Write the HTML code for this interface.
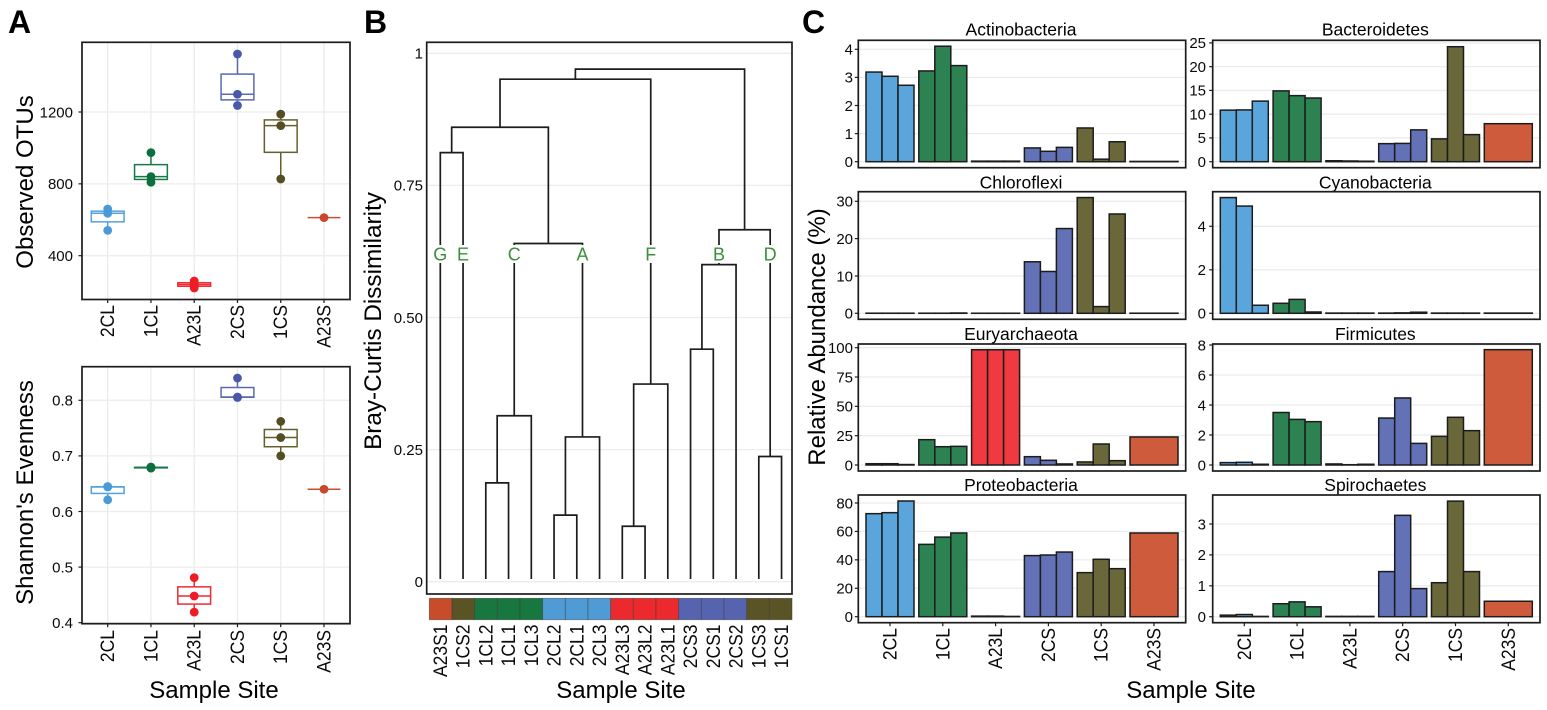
<!DOCTYPE html>
<html lang="en">
<head>
<meta charset="utf-8">
<title>Microbial community figure</title>
<style>
html,body{margin:0;padding:0;background:#fff;}
svg{display:block;font-family:"Liberation Sans",Arial,sans-serif;}
</style>
</head>
<body>
<svg id="figure" xmlns="http://www.w3.org/2000/svg" width="1547" height="710" viewBox="0 0 1547 710">
  <text x="8" y="33" font-size="32" font-weight="bold" fill="#000">A</text>
  <text x="364" y="33" font-size="32" font-weight="bold" fill="#000">B</text>
  <text x="802" y="33" font-size="32" font-weight="bold" fill="#000">C</text>
  <text transform="translate(33 182) rotate(-90)" text-anchor="middle" font-size="24" fill="#000">Observed OTUs</text>
  <text transform="translate(33 492.5) rotate(-90)" text-anchor="middle" font-size="24" fill="#000">Shannon's Evenness</text>
  <text x="214" y="698" text-anchor="middle" font-size="24" fill="#000">Sample Site</text>
  <text transform="translate(381 321) rotate(-90)" text-anchor="middle" font-size="24.3" fill="#000">Bray-Curtis Dissimilarity</text>
  <text x="621" y="698" text-anchor="middle" font-size="24" fill="#000">Sample Site</text>
  <text transform="translate(825 337) rotate(-90)" text-anchor="middle" font-size="24" fill="#000">Relative Abundance (%)</text>
  <text x="1191" y="698" text-anchor="middle" font-size="24" fill="#000">Sample Site</text>
  <g id="panel-a"></g>
  <g id="panel-b"></g>
  <g id="panel-c"></g>
</svg>
<script>
/* ---------- shared data ---------- */
const sites = ['2CL','1CL','A23L','2CS','1CS','A23S'];
const replicatesPerSite = [3,3,3,3,3,1];

/* Panel A */
const otusTicks = [400,800,1200];
const otus2CL = [541,636,660];
const otus1CL = [809,840,974];
const otusA23L = [220,240,259];
const otus2CS = [1236,1299,1523];
const otus1CS = [827,1124,1188];
const otusA23S = [612];
const evennessTicks = [0.4,0.5,0.6,0.7,0.8];
const evenness2CL = [0.621,0.644,0.645];
const evenness1CL = [0.678,0.679,0.680];
const evennessA23L = [0.419,0.448,0.481];
const evenness2CS = [0.805,0.806,0.840];
const evenness1CS = [0.700,0.733,0.762];
const evennessA23S = [0.640];

/* Panel B */
const dendroTicks = [0,0.25,0.5,0.75,1];
const dendroTickLabels = ['0','0.25','0.50','0.75','1'];
const leafNames = ['A23S1','1CS2','1CL2','1CL1','1CL3','2CL2','2CL1','2CL3','A23L3','A23L2','A23L1','2CS3','2CS1','2CS2','1CS3','1CS1'];
const leafHeight = 0.005;
const mergeLeft  = [2,16,5,18,8,20,11,22,14,23,17,0,27,28,29];
const mergeRight = [3,4,6,7,9,10,12,13,15,24,19,1,26,21,25];
const mergeHeight = [0.187,0.314,0.126,0.274,0.105,0.374,0.44,0.60,0.237,0.666,0.64,0.812,0.86,0.951,0.97];
const clusterLetters = ['G','E','C','A','F','B','D'];
const clusterNodes = [0,1,17,19,21,23,24];

/* Panel C */
const phyla = ['Actinobacteria','Bacteroidetes','Chloroflexi','Cyanobacteria','Euryarchaeota','Firmicutes','Proteobacteria','Spirochaetes'];
const actinobacteria = [3.19,3.04,2.72, 3.23,4.11,3.42, 0.02,0.02,0.02, 0.49,0.37,0.51, 1.2,0.09,0.71, 0.01];
const bacteroidetes = [10.85,10.9,12.75, 14.9,13.9,13.4, 0.2,0.15,0.1, 3.8,3.85,6.7, 4.8,24.2,5.7, 8.0];
const chloroflexi = [0.03,0.03,0.03, 0.03,0.03,0.08, 0.02,0.02,0.02, 13.8,11.2,22.7, 31,1.8,26.6, 0.03];
const cyanobacteria = [5.32,4.93,0.37, 0.46,0.64,0.06, 0.01,0.01,0.01, 0.01,0.02,0.05, 0.01,0.01,0.01, 0.01];
const euryarchaeota = [1.1,1.1,0.4, 21.6,15.6,15.9, 98.3,98.3,98.3, 7.1,4,0.9, 2.6,17.9,3.7, 23.9];
const firmicutes = [0.16,0.18,0.05, 3.5,3.04,2.89, 0.07,0.02,0.05, 3.13,4.47,1.44, 1.91,3.18,2.29, 7.69];
const proteobacteria = [72.5,73.2,81.4, 50.9,56,58.9, 0.4,0.4,0.2, 43,43.4,45.5, 31,40.4,33.8, 58.9];
const spirochaetes = [0.05,0.07,0.01, 0.42,0.48,0.32, 0.01,0.01,0.01, 1.46,3.28,0.91, 1.1,3.74,1.46, 0.5];
const actinobacteriaTicks = [0,1,2,3,4];
const bacteroidetesTicks = [0,5,10,15,20,25];
const chloroflexiTicks = [0,10,20,30];
const cyanobacteriaTicks = [0,2,4];
const euryarchaeotaTicks = [0,25,50,75,100];
const firmicutesTicks = [0,2,4,6,8];
const proteobacteriaTicks = [0,20,40,60,80];
const spirochaetesTicks = [0,1,2,3];

/* ---------- styling ---------- */
const pointColors = {'2CL':'#4a9ad8','1CL':'#0e6f3e','A23L':'#ee1c25','2CS':'#4a59a7','1CS':'#544e22','A23S':'#c9472a'};
const boxColors = {'2CL':'#55a2dd','1CL':'#18784a','A23L':'#ef2a32','2CS':'#5a68b5','1CS':'#63602f','A23S':'#cb4f2e'};
const barColors = {'2CL':'#5aa5dc','1CL':'#2c8251','A23L':'#ee3a40','2CS':'#6371b7','1CS':'#6a683a','A23S':'#ce5b3b'};
const stripColors = {'2CL':'#4f9bd6','1CL':'#17773f','A23L':'#ec2a2e','2CS':'#5664b0','1CS':'#5a5326','A23S':'#c94c2a'};
const GRID = '#ececec';
const INK = '#1c1c1c';
const TICKTEXT = '#0a0a0a';

/* ---------- helpers ---------- */
const NS = 'http://www.w3.org/2000/svg';
function mk(tag, attrs, parent){
  const el = document.createElementNS(NS, tag);
  for (const k in attrs) el.setAttribute(k, attrs[k]);
  parent.appendChild(el);
  return el;
}
function linearScale(v0, p0, v1, p1){
  return v => p0 + (v - v0) * (p1 - p0) / (v1 - v0);
}
function drawLine(parent, x1, y1, x2, y2, stroke, w, name){
  const el = mk('line', {x1, y1, x2, y2, stroke, 'stroke-width': w}, parent);
  
  
  return el;
}
function drawText(parent, x, y, str, size, anchor, name, fill){
  const el = mk('text', {x, y, 'font-size': size, 'text-anchor': anchor, fill: fill || TICKTEXT}, parent);
  el.textContent = str;
  
  
  return el;
}
function drawVerticalLabel(parent, x, yEnd, str, size, name){
  const el = mk('text', {'font-size': size, 'text-anchor': 'end', fill: TICKTEXT,
    transform: 'translate(' + x + ' ' + yEnd + ') rotate(-90) scale(1 1.12)'}, parent);
  el.textContent = str;
  
  
  return el;
}
function drawFrame(parent, r, name){
  const el = mk('rect', {x: r.x, y: r.y, width: r.w, height: r.h, fill: 'none', stroke: INK, 'stroke-width': 1.7}, parent);
  
  
  return el;
}
function quantile(sorted, q){
  const pos = (sorted.length - 1) * q;
  const lo = Math.floor(pos), hi = Math.ceil(pos);
  return sorted[lo] + (sorted[hi] - sorted[lo]) * (pos - lo);
}

/* ---------- panel A ---------- */
function drawBoxPanel(prefix, r, series, ticks, tickFmt, yScale, labelEnd){
  const root = document.getElementById('panel-a');
  const xScale = i => 107.7 + 43.26 * i;
  ticks.forEach(t => {
    const y = yScale(t);
    drawLine(root, r.x, y, r.x + r.w, y, GRID, 1.3, prefix + '-gridline-y');
    drawLine(root, r.x - 3.5, y, r.x, y, INK, 1.2, prefix + '-y-tick');
    drawText(root, 73, y + 5.3, tickFmt(t), 15, 'end', prefix + '-y-tick-label');
  });
  sites.forEach((s, i) => {
    const x = xScale(i);
    drawLine(root, x, r.y, x, r.y + r.h, GRID, 1.3, prefix + '-gridline-x');
  });
  sites.forEach((s, i) => {
    const x = xScale(i), vals = series[i].slice().sort((a, b) => a - b);
    const q1 = quantile(vals, 0.25), med = quantile(vals, 0.5), q3 = quantile(vals, 0.75);
    const col = boxColors[s], hw = 16.4;
    drawLine(root, x, yScale(q3), x, yScale(vals[vals.length - 1]), col, 1.5, prefix + '-whisker-upper-' + s);
    drawLine(root, x, yScale(q1), x, yScale(vals[0]), col, 1.5, prefix + '-whisker-lower-' + s);
    const box = mk('rect', {x: x - hw, y: yScale(q3), width: hw * 2, height: Math.max(0, yScale(q1) - yScale(q3)), fill: '#fff', stroke: col, 'stroke-width': 1.5}, root);
    
    
    drawLine(root, x - hw, yScale(med), x + hw, yScale(med), col, 1.5, prefix + '-median-' + s);
    vals.forEach(v => {
      const pt = mk('circle', {cx: x, cy: yScale(v), r: 4.4, fill: pointColors[s]}, root);
      
      
    });
    drawLine(root, x, r.y + r.h, x, r.y + r.h + 3.5, INK, 1.2, prefix + '-x-tick');
    drawVerticalLabel(root, x + 6.5, labelEnd, s, 17.5, prefix + '-x-tick-label');
  });
  drawFrame(root, r, prefix + '-frame');
}
drawBoxPanel('otus', {x:82, y:42.3, w:268, h:257.2},
  [otus2CL, otus1CL, otusA23L, otus2CS, otus1CS, otusA23S],
  otusTicks, t => String(t), linearScale(400, 255.7, 1200, 112), 305);
drawBoxPanel('evenness', {x:82, y:366.7, w:268, h:257},
  [evenness2CL, evenness1CL, evennessA23L, evenness2CS, evenness1CS, evennessA23S],
  evennessTicks, t => t.toFixed(1), linearScale(0.4, 622.7, 0.8, 400.3), 630);

/* ---------- panel B ---------- */
(function(){
  const root = document.getElementById('panel-b');
  const r = {x:426.7, y:42.3, w:365.3, h:551.7};
  const yScale = linearScale(0, 581.7, 1, 53.3);
  const leafX = i => 440.3 + 22.75 * i;
  dendroTicks.forEach((t, i) => {
    const y = yScale(t);
    drawLine(root, r.x, y, r.x + r.w, y, GRID, 1.3, 'dendrogram-gridline');
    drawText(root, 423, y + 5.3, dendroTickLabels[i], 15, 'end', 'dendrogram-y-tick-label');
  });
  const nodeX = [], nodeH = [];
  leafNames.forEach((n, i) => { nodeX[i] = leafX(i); nodeH[i] = leafHeight; });
  mergeHeight.forEach((h, m) => {
    const a = mergeLeft[m], b = mergeRight[m], id = leafNames.length + m;
    nodeX[id] = (nodeX[a] + nodeX[b]) / 2;
    nodeH[id] = h;
    const p = mk('path', {d: 'M' + nodeX[a] + ' ' + yScale(nodeH[a]) + 'V' + yScale(h) + 'H' + nodeX[b] + 'V' + yScale(nodeH[b]),
      fill: 'none', stroke: INK, 'stroke-width': 1.7}, root);
    
    
  });
  clusterLetters.forEach((letter, i) => {
    const x = nodeX[clusterNodes[i]];
    const bg = mk('rect', {x: x - 8, y: 245, width: 16, height: 18, fill: '#fff'}, root);
    
    
    drawText(root, x, 260.7, letter, 18, 'middle', 'cluster-label-' + letter, '#3b8f3b');
  });
  leafNames.forEach((n, i) => {
    const site = n.slice(0, -1);
    const cell = mk('rect', {x: 429.3 + 22.67 * i, y: 598.3, width: 22.67, height: 21.4, fill: stripColors[site], stroke: '#3a3a3a', 'stroke-opacity': 0.55, 'stroke-width': 0.8}, root);
    
    
    drawVerticalLabel(root, leafX(i) + 6.5, 624.5, n, 17.5, 'sample-label-' + n);
  });
  drawFrame(root, r, 'dendrogram-frame');
})();

/* ---------- panel C ---------- */
const facetSeries = [actinobacteria, bacteroidetes, chloroflexi, cyanobacteria, euryarchaeota, firmicutes, proteobacteria, spirochaetes];
const facetTicks = [actinobacteriaTicks, bacteroidetesTicks, chloroflexiTicks, cyanobacteriaTicks, euryarchaeotaTicks, firmicutesTicks, proteobacteriaTicks, spirochaetesTicks];
const facetRows = [
  {top:40.3, bottom:167.7, title:35.7, zero:161.7},
  {top:191.7, bottom:319.3, title:188.3, zero:313.3},
  {top:344, bottom:471, title:340, zero:465},
  {top:495, bottom:622.7, title:491, zero:616.7}
];
const facetCols = [
  {left:858.3, right:1185.7, center:890, labelX:853},
  {left:1212.7, right:1540, center:1244.3, labelX:1206}
];
const facetCalibTickPx = [49.3, 42.9, 201.3, 226.3, 347.7, 345, 503, 524];
const facetCalibTickIndex = [4, 5, 3, 2, 4, 4, 4, 3];

phyla.forEach((name, f) => {
  const root = document.getElementById('panel-c');
  const row = facetRows[Math.floor(f / 2)], col = facetCols[f % 2];
  const slug = name.toLowerCase();
  const r = {x: col.left, y: row.top, w: col.right - col.left, h: row.bottom - row.top};
  const ticks = facetTicks[f];
  const yScale = linearScale(0, row.zero, ticks[facetCalibTickIndex[f]], facetCalibTickPx[f]);
  const xScale = i => col.center + 52.8 * i;
  drawText(root, (col.left + col.right) / 2 - 1, row.title, name, 17.5, 'middle', slug + '-title', '#000');
  ticks.forEach(t => {
    const y = yScale(t);
    drawLine(root, r.x, y, r.x + r.w, y, GRID, 1.3, slug + '-gridline');
    drawLine(root, r.x - 3.5, y, r.x, y, INK, 1.2, slug + '-y-tick');
    drawText(root, col.labelX, y + 5.3, String(t), 15, 'end', slug + '-y-tick-label');
  });
  let k = 0;
  sites.forEach((s, i) => {
    const n = replicatesPerSite[i], groupW = 48, w = groupW / n;
    for (let j = 0; j < n; j++, k++) {
      const top = yScale(facetSeries[f][k]);
      const bar = mk('rect', {x: xScale(i) - groupW / 2 + j * w, y: top, width: w, height: Math.max(0, row.zero - top),
        fill: barColors[s], stroke: INK, 'stroke-width': 1.5}, root);
      
      
    }
    if (f >= 6) {
      drawLine(root, xScale(i), row.bottom, xScale(i), row.bottom + 3.5, INK, 1.2, slug + '-x-tick');
      drawVerticalLabel(root, xScale(i) + 6.5, 628, s, 17.5, slug + '-x-tick-label');
    }
  });
  drawFrame(root, r, slug + '-frame');
});
</script>
</body>
</html>
